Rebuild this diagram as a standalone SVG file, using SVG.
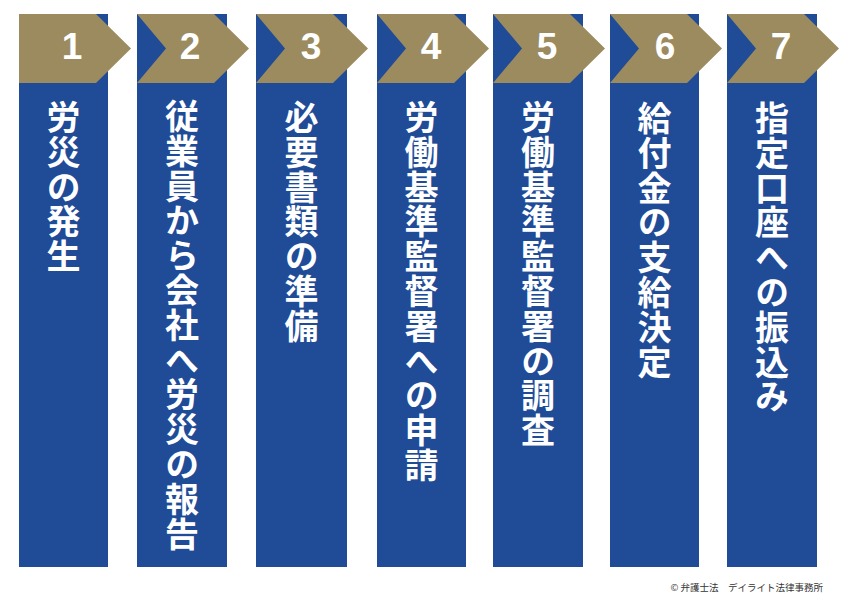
<svg xmlns="http://www.w3.org/2000/svg" width="850" height="603" viewBox="0 0 850 603">
<defs>
<style>
.col{fill:#1f4b97}
.chev{fill:#9b8b5e}
.num{font-family:"Liberation Sans",Arial,sans-serif;font-weight:bold;font-size:37px;fill:#ffffff;text-anchor:middle}
.lbl{font-family:"Noto Sans CJK JP","Noto Sans CJK SC",sans-serif;font-weight:bold;font-size:34px;fill:#ffffff;writing-mode:vertical-rl;letter-spacing:0.8px}
.foot{font-family:"Noto Sans CJK JP","Noto Sans CJK SC",sans-serif;font-size:9.5px;fill:#333333}
</style>
<polygon id="chevN" points="0,0 77,0 112,34.5 77,69 0,69 29,34.5"/>
<polygon id="chev1" points="0,0 77,0 112,34.5 77,69 0,69"/>
</defs>
<rect width="850" height="603" fill="#ffffff"/>
<g id="connectors"></g>
<g id="step1">
<rect class="col" x="19" y="14" width="89" height="553"/>
<use href="#chev1" class="chev" x="19" y="14"/>
<text class="num" x="72" y="59">1</text>
<text class="lbl" x="63.5" y="100">労災の発生</text>
</g>
<g id="step2">
<rect class="col" x="137" y="14" width="90" height="553"/>
<use href="#chevN" class="chev" x="137" y="14"/>
<text class="num" x="190" y="59">2</text>
<text class="lbl" x="182" y="99">従業員から会社へ労災の報告</text>
</g>
<g id="step3">
<rect class="col" x="256" y="14" width="91" height="553"/>
<use href="#chevN" class="chev" x="256" y="14"/>
<text class="num" x="311" y="59">3</text>
<text class="lbl" x="301.5" y="100">必要書類の準備</text>
</g>
<g id="step4">
<rect class="col" x="377" y="14" width="89" height="553"/>
<use href="#chevN" class="chev" x="377" y="14"/>
<text class="num" x="431" y="59">4</text>
<text class="lbl" x="421.5" y="100">労働基準監督署への申請</text>
</g>
<g id="step5">
<rect class="col" x="493" y="14" width="90" height="553"/>
<use href="#chevN" class="chev" x="493" y="14"/>
<text class="num" x="547" y="59">5</text>
<text class="lbl" x="538" y="100">労働基準監督署の調査</text>
</g>
<g id="step6">
<rect class="col" x="610" y="14" width="89" height="553"/>
<use href="#chevN" class="chev" x="610" y="14"/>
<text class="num" x="665" y="59">6</text>
<text class="lbl" x="654.5" y="101">給付金の支給決定</text>
</g>
<g id="step7">
<rect class="col" x="727" y="14" width="90" height="553"/>
<use href="#chevN" class="chev" x="727" y="14"/>
<text class="num" x="781" y="59">7</text>
<text class="lbl" x="772" y="101">指定口座への振込み</text>
</g>
<text class="foot" x="823" y="591" text-anchor="end">© 弁護士法　デイライト法律事務所</text>
</svg>
